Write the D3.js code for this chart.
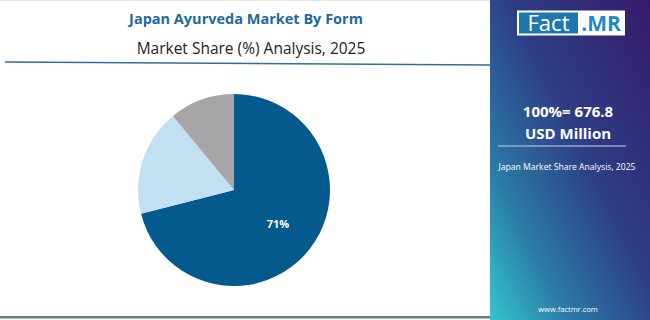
<!DOCTYPE html>
<html>
<head>
<meta charset="utf-8">
<script src="https://cdn.jsdelivr.net/npm/d3@7"></script>
<style>
  html, body { margin: 0; padding: 0; background: #fff; }
  svg { display: block; font-family: "Open Sans", "Noto Sans", sans-serif; }
</style>
</head>
<body>
<svg id="chart" width="650" height="320"></svg>
<script>
// slices, clockwise from 12 o'clock
const segments = ["Tablets & Capsules", "Powders", "Others"];
const shares = [71, 18, 11];
const slice_colors = ["#045a8d", "#c3e0f2", "#a7a5a8"];
const shown_labels = ["71%", "", ""];

const title = "Japan Ayurveda Market By Form";
const subtitle = "Market Share (%) Analysis, 2025";
const total_line1 = "100%= 676.8";
const total_line2 = "USD Million";
const panel_note = "Japan Market Share Analysis, 2025";
const site = "www.factmr.com";

const W = 650, H = 320;
const panel_x = 490;
const cx = 234, cy = 190, radius = 96;

const svg = d3.select("#chart");
const defs = svg.append("defs");

const grad = defs.append("linearGradient")
	.attr("id", "panel_grad")
	.attr("x1", "1").attr("y1", "0")
	.attr("x2", "0").attr("y2", "1");
grad.append("stop").attr("offset", "0%").attr("stop-color", "#35196a");
grad.append("stop").attr("offset", "45%").attr("stop-color", "#2d3f86");
grad.append("stop").attr("offset", "75%").attr("stop-color", "#2b7aa6");
grad.append("stop").attr("offset", "100%").attr("stop-color", "#33c6cb");

// white area
svg.append("rect").attr("width", W).attr("height", H).attr("fill", "#fff");
svg.append("line")
	.attr("x1", 0).attr("x2", panel_x).attr("y1", 0.5).attr("y2", 0.5)
	.attr("stroke", "#e4e4e4");

// title block
svg.append("text")
	.attr("x", 246).attr("y", 24)
	.attr("text-anchor", "middle")
	.attr("font-size", 14.5).attr("font-weight", 700)
	.attr("fill", "#1d6aa0")
	.text(title);

svg.append("text")
	.attr("x", 251).attr("y", 54)
	.attr("text-anchor", "middle")
	.attr("font-size", 15.5)
	.attr("fill", "#222")
	.text(subtitle);

svg.append("line")
	.attr("x1", 5).attr("y1", 62).attr("x2", panel_x).attr("y2", 65)
	.attr("stroke", "#2c6f9b").attr("stroke-width", 1.6);

svg.append("rect")
	.attr("x", 0).attr("y", 316).attr("width", panel_x).attr("height", 2.5)
	.attr("fill", "#6b7886");

// pie
const pie = d3.pie().sort(null).value(d => d.v);
const arc = d3.arc().innerRadius(0).outerRadius(radius);
const label_arc = d3.arc().innerRadius(radius * 0.58).outerRadius(radius * 0.58);

const data = segments.map((s, i) => ({ name: s, v: shares[i], color: slice_colors[i], label: shown_labels[i] }));
const arcs = pie(data);

const g = svg.append("g").attr("transform", `translate(${cx},${cy})`);

g.selectAll("path")
	.data(arcs)
	.enter()
	.append("path")
	.attr("d", arc)
	.attr("fill", d => d.data.color);

g.selectAll("text")
	.data(arcs)
	.enter()
	.append("text")
	.attr("transform", d => `translate(${label_arc.centroid(d)})`)
	.attr("text-anchor", "middle")
	.attr("dy", "0.35em")
	.attr("font-size", 11).attr("font-weight", 700)
	.attr("fill", "#fff")
	.text(d => d.data.label);

// right panel
svg.append("rect")
	.attr("x", panel_x).attr("y", 0)
	.attr("width", W - panel_x).attr("height", H)
	.attr("fill", "url(#panel_grad)");

// logo
svg.append("rect")
	.attr("x", 517).attr("y", 10.5).attr("width", 108).attr("height", 25)
	.attr("fill", "#fff");
svg.append("rect")
	.attr("x", 519).attr("y", 12.5).attr("width", 59).attr("height", 21)
	.attr("fill", "#1f77b0");
svg.append("text")
	.attr("x", 548.5).attr("y", 31)
	.attr("text-anchor", "middle")
	.attr("font-size", 22).attr("fill", "#fff")
	.attr("font-family", "Open Sans, sans-serif")
	.text("Fact");
svg.append("text")
	.attr("x", 601).attr("y", 31)
	.attr("text-anchor", "middle")
	.attr("font-size", 21).attr("font-weight", 700)
	.attr("fill", "#1f8ac6")
	.text(".MR");

const pcx = 568;
svg.append("text")
	.attr("x", pcx).attr("y", 117)
	.attr("text-anchor", "middle")
	.attr("font-size", 15).attr("font-weight", 700)
	.attr("fill", "#fff")
	.text(total_line1);
svg.append("text")
	.attr("x", pcx).attr("y", 139)
	.attr("text-anchor", "middle")
	.attr("font-size", 15).attr("font-weight", 700)
	.attr("fill", "#fff")
	.text(total_line2);
svg.append("line")
	.attr("x1", 498).attr("x2", 626).attr("y1", 146).attr("y2", 146)
	.attr("stroke", "#c9d3e6").attr("stroke-width", 1);
svg.append("text")
	.attr("x", 567).attr("y", 170)
	.attr("text-anchor", "middle")
	.attr("font-size", 8.6)
	.attr("fill", "#fff")
	.text(panel_note);
svg.append("text")
	.attr("x", pcx).attr("y", 312)
	.attr("text-anchor", "middle")
	.attr("font-size", 7.5)
	.attr("fill", "#fff")
	.text(site);
</script>
</body>
</html>
